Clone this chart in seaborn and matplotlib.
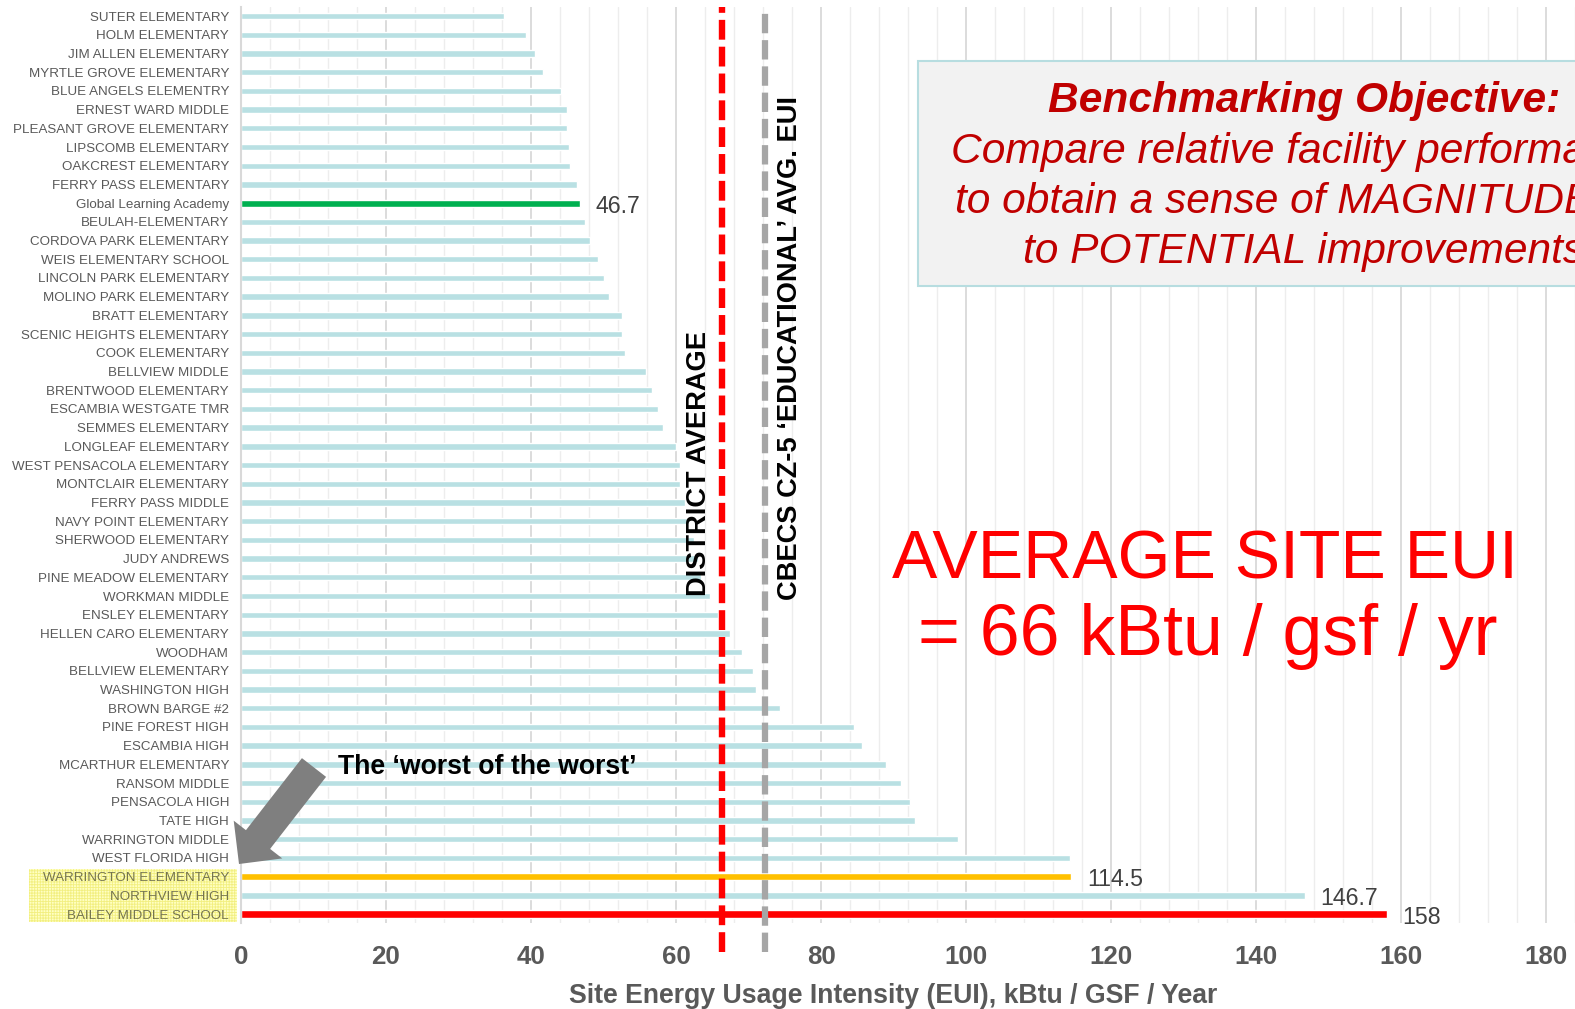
import matplotlib
matplotlib.use("Agg")
import matplotlib.pyplot as plt
import seaborn as sns
import pandas as pd
from matplotlib.patches import Rectangle, FancyArrowPatch, ArrowStyle
from matplotlib.ticker import MultipleLocator

# ---------------- data ----------------
schools = [
    "SUTER ELEMENTARY", "HOLM ELEMENTARY", "JIM ALLEN ELEMENTARY", "MYRTLE GROVE ELEMENTARY",
    "BLUE ANGELS ELEMENTRY", "ERNEST WARD MIDDLE", "PLEASANT GROVE ELEMENTARY", "LIPSCOMB ELEMENTARY",
    "OAKCREST ELEMENTARY", "FERRY PASS ELEMENTARY", "Global Learning Academy", "BEULAH-ELEMENTARY",
    "CORDOVA PARK ELEMENTARY", "WEIS ELEMENTARY SCHOOL", "LINCOLN PARK ELEMENTARY", "MOLINO PARK ELEMENTARY",
    "BRATT ELEMENTARY", "SCENIC HEIGHTS ELEMENTARY", "COOK ELEMENTARY", "BELLVIEW MIDDLE",
    "BRENTWOOD ELEMENTARY", "ESCAMBIA WESTGATE TMR", "SEMMES ELEMENTARY", "LONGLEAF ELEMENTARY",
    "WEST PENSACOLA ELEMENTARY", "MONTCLAIR ELEMENTARY", "FERRY PASS MIDDLE", "NAVY POINT ELEMENTARY",
    "SHERWOOD ELEMENTARY", "JUDY ANDREWS", "PINE MEADOW ELEMENTARY", "WORKMAN MIDDLE",
    "ENSLEY ELEMENTARY", "HELLEN CARO ELEMENTARY", "WOODHAM", "BELLVIEW ELEMENTARY",
    "WASHINGTON HIGH", "BROWN BARGE #2", "PINE FOREST HIGH", "ESCAMBIA HIGH",
    "MCARTHUR ELEMENTARY", "RANSOM MIDDLE", "PENSACOLA HIGH", "TATE HIGH",
    "WARRINGTON MIDDLE", "WEST FLORIDA HIGH", "WARRINGTON ELEMENTARY", "NORTHVIEW HIGH",
    "BAILEY MIDDLE SCHOOL",
]
eui = [
    36.3, 39.3, 40.5, 41.7,
    44.1, 44.9, 45.0, 45.2,
    45.4, 46.4, 46.7, 47.5,
    48.1, 49.3, 50.0, 50.8,
    52.5, 52.6, 52.9, 55.9,
    56.7, 57.5, 58.2, 60.0,
    60.5, 60.6, 61.3, 61.5,
    62.5, 63.0, 63.5, 64.7,
    65.8, 67.5, 69.1, 70.6,
    71.1, 74.3, 84.5, 85.6,
    89.0, 91.1, 92.3, 92.9,
    98.9, 114.4, 114.5, 146.7,
    158.0,
]
highlight = {
    "Global Learning Academy": "#00b050",
    "WARRINGTON ELEMENTARY": "#ffc000",
    "BAILEY MIDDLE SCHOOL": "#ff0000",
}
value_labels = {
    "Global Learning Academy": "46.7",
    "WARRINGTON ELEMENTARY": "114.5",
    "NORTHVIEW HIGH": "146.7",
    "BAILEY MIDDLE SCHOOL": "158",
}
worst_three = ["WARRINGTON ELEMENTARY", "NORTHVIEW HIGH", "BAILEY MIDDLE SCHOOL"]
district_avg = 66.3
cbecs_avg = 72.3
x_ticks = [0, 20, 40, 60, 80, 100, 120, 140, 160, 180]

df = pd.DataFrame({"school": schools, "eui": eui})

# ---------------- style ----------------
sns.set_theme(style="white")
plt.rcParams["font.family"] = ["Liberation Sans", "DejaVu Sans"]
plt.rcParams["hatch.linewidth"] = 0.6

W, H = 1575, 1009
fig = plt.figure(figsize=(W / 100, H / 100), dpi=100)
ax_top, ax_bot, ax_left = 6.7, 923.4, 241
ax = fig.add_axes([ax_left / W, (H - ax_bot) / H, (W - ax_left) / W, (ax_bot - ax_top) / H])

base = df[~df["school"].isin(highlight)]
hi = df[df["school"].isin(highlight)]
sns.barplot(data=base, x="eui", y="school", order=schools, color="#b9e0e3",
            width=0.34, saturation=1, ax=ax, zorder=2)
sns.barplot(data=hi, x="eui", y="school", order=schools, hue="school", palette=highlight,
            width=0.38, saturation=1, legend=False, ax=ax, zorder=2)

ax.set_xlim(0, 184)
ax.set_ylim(len(schools) - 0.5, -0.5)
ax.set_xlabel("")
ax.set_ylabel("")

# grid
ax.set_axisbelow(True)
ax.set_xticks(x_ticks)
ax.xaxis.set_minor_locator(MultipleLocator(4))
ax.grid(axis="x", which="major", color="#d9d9d9", lw=1.3)
ax.grid(axis="x", which="minor", color="#ededed", lw=1.0)
ax.grid(axis="y", visible=False)
for s in ["top", "right", "bottom"]:
    ax.spines[s].set_visible(False)
ax.spines["left"].set_color("#d9d9d9")
ax.spines["left"].set_linewidth(1.5)

ax.tick_params(axis="y", length=0, pad=8.6, labelsize=9.6, labelcolor="#595959")
ax.tick_params(axis="x", which="both", length=0, pad=15.5)
ax.set_xticklabels([str(t) for t in x_ticks], fontsize=18.6, fontweight="bold", color="#595959")
for lbl in ax.get_yticklabels():
    if lbl.get_text() in worst_three:
        lbl.set_color("#75754f")

# value labels
label_dy = {"Global Learning Academy": -2.6, "WARRINGTON ELEMENTARY": -1.8,
            "NORTHVIEW HIGH": -2.2, "BAILEY MIDDLE SCHOOL": -2.8}
for i, name in enumerate(schools):
    if name in value_labels:
        ax.annotate(value_labels[name], xy=(eui[i], i), xytext=(11.5, label_dy[name]),
                    textcoords="offset points", ha="left", va="center",
                    fontsize=16.7, color="#404040", zorder=6)

# reference lines
ax.axvline(district_avg, ymin=-0.031, ymax=1, color="#ff0000", lw=4.6,
           linestyle=(0, (3.1, 1.1)), clip_on=False, zorder=5)
ax.axvline(cbecs_avg, ymin=-0.031, ymax=1, color="#a6a6a6", lw=4.5,
           linestyle=(0, (3.1, 1.1)), clip_on=False, zorder=5)

# x label
fig.text(893 / W, 1 - 996 / H, "Site Energy Usage Intensity (EUI), kBtu / GSF / Year",
         ha="center", va="center", fontsize=19.2, fontweight="bold", color="#595959")

# vertical annotations
fig.text(699 / W, 1 - 596 / H, "DISTRICT AVERAGE", rotation=90, ha="center", va="bottom",
         fontsize=19.6, fontweight="bold", color="black", zorder=6)
fig.text(790.5 / W, 1 - 600 / H, "CBECS CZ-5 \u2018EDUCATIONAL\u2019 AVG. EUI", rotation=90,
         ha="center", va="bottom", fontsize=19.6, fontweight="bold", color="black", zorder=6)

# big red average text
fig.text(1205 / W, 1 - 578.5 / H, "AVERAGE SITE EUI", ha="center", va="baseline",
         fontsize=49, color="#ff0000")
fig.text(1208 / W, 1 - 655 / H, "= 66 kBtu / gsf / yr", ha="center", va="baseline",
         fontsize=51.7, color="#ff0000")

# objective box
box = Rectangle((918 / W, 1 - 286 / H), (W - 918 + 20) / W, (286 - 61.3) / H,
                transform=fig.transFigure, facecolor="#f2f2f2", edgecolor="#b7dde0",
                lw=1.5, zorder=2)
fig.add_artist(box)
box_lines = [
    (1048, 101, "Benchmarking Objective:", "bold"),
    (951, 152, "Compare relative facility performance", "normal"),
    (955, 202.5, "to obtain a sense of MAGNITUDE", "normal"),
    (1023, 252.5, "to POTENTIAL improvements", "normal"),
]
for x, y, t, wgt in box_lines:
    fig.text(x / W, 1 - y / H, t, ha="left", va="center", fontsize=30.6, fontstyle="italic",
             fontweight=wgt, color="#c00000", zorder=3)

# yellow highlight behind worst three labels
ybox = Rectangle((29 / W, 1 - 922 / H), (237 - 29) / W, (922 - 869) / H,
                 transform=fig.transFigure, facecolor="#ffffc2", edgecolor="#f2ef80",
                 hatch="++++++", lw=0, zorder=-1)
fig.add_artist(ybox)

# "worst of the worst" arrow + text
arrow = FancyArrowPatch(posA=(314 / W, 1 - 767.5 / H), posB=(239 / W, 1 - 864 / H),
                        transform=fig.transFigure,
                        arrowstyle=ArrowStyle.Simple(head_length=22.3, head_width=44.3, tail_width=22),
                        mutation_scale=1, shrinkA=0, shrinkB=0, color="#7f7f7f", lw=0, zorder=4)
fig.add_artist(arrow)
fig.text(338.5 / W, 1 - 767 / H, "The \u2018worst of the worst\u2019", ha="left", va="center",
         fontsize=19.2, fontweight="bold", color="black", zorder=5)

fig.savefig("out.png", dpi=100, facecolor="white")
